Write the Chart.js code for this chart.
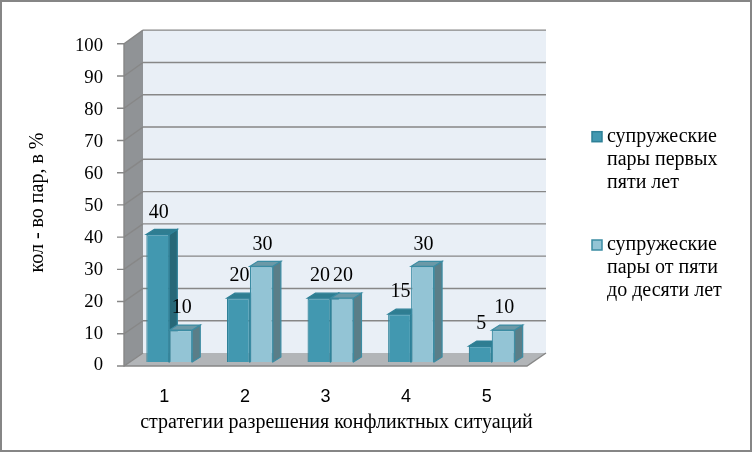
<!DOCTYPE html>
<html><head><meta charset="utf-8">
<script src="https://cdn.jsdelivr.net/npm/chart.js@4"></script>
<style>html,body{margin:0;padding:0;background:#fff}canvas{display:block}</style>
</head><body>
<canvas id="c" width="752" height="452"></canvas>
<script>
const categories = ['1', '2', '3', '4', '5'];
const series1Name = ['супружеские', 'пары первых', 'пяти лет'];
const series2Name = ['супружеские', 'пары от пяти', 'до десяти лет'];
const series1 = [40, 20, 20, 15, 5];
const series2 = [10, 30, 20, 30, 10];
const yTickValues = [0, 10, 20, 30, 40, 50, 60, 70, 80, 90, 100];
const xTitle = 'стратегии разрешения конфликтных ситуаций';
const yTitle = 'кол - во пар, в %';

const SERIF = '"Liberation Serif", "Times New Roman", serif';
const SANS = '"Liberation Sans", Arial, sans-serif';
const STYLE = [
  {front: '#4298B0', top: '#2F7D91', side: '#276878', border: '#2E8097'},
  {front: '#93C4D5', top: '#6C99A7', side: '#5A7E88', border: '#3B8CA3'}
];
const BAR_DX = 8, BAR_DY = -5;

const scene3d = {
  id: 'scene3d',
  beforeDraw(chart) {
    const ctx = chart.ctx, ca = chart.chartArea, ys = chart.scales.y;
    const fy = v => ca.bottom + 4 + (ys.getPixelForValue(v) - ca.bottom) * 1.01;
    const by = v => ca.bottom - 9 + (ys.getPixelForValue(v) - ca.bottom) * 1.012;
    const fl = ca.left - 5, fr = ca.right - 5, bl = ca.left + 14, br = ca.right + 14;
    ctx.save();
    ctx.fillStyle = '#fff';
    ctx.fillRect(0, 0, chart.width, chart.height);
    ctx.fillStyle = '#E9EFF6';
    ctx.fillRect(bl, by(100), br - bl, by(0) - by(100));
    ctx.fillStyle = '#909396';
    ctx.beginPath();
    ctx.moveTo(fl, fy(100)); ctx.lineTo(bl, by(100)); ctx.lineTo(bl, by(0)); ctx.lineTo(fl, fy(0));
    ctx.closePath(); ctx.fill();
    ctx.fillStyle = '#B2B5B8';
    ctx.beginPath();
    ctx.moveTo(fl, fy(0)); ctx.lineTo(fr, fy(0)); ctx.lineTo(br, by(0)); ctx.lineTo(bl, by(0));
    ctx.closePath(); ctx.fill();
    ctx.strokeStyle = '#878787';
    ctx.lineWidth = 1.4;
    yTickValues.forEach(v => {
      ctx.beginPath();
      if (v > 0) { ctx.moveTo(bl, by(v)); ctx.lineTo(br, by(v)); }
      ctx.moveTo(fl - 7, fy(v)); ctx.lineTo(fl, fy(v)); ctx.lineTo(bl, by(v));
      ctx.stroke();
    });
    ctx.beginPath();
    ctx.moveTo(fl, fy(100)); ctx.lineTo(fl, fy(0)); ctx.lineTo(fr, fy(0)); ctx.lineTo(br, by(0));
    ctx.stroke();
    ctx.restore();
  },
  beforeDatasetsDraw(chart) {
    const ctx = chart.ctx;
    ctx.save();
    ctx.lineWidth = 1.2;
    chart.data.datasets.forEach((ds, i) => {
      const st = STYLE[i];
      chart.getDatasetMeta(i).data.forEach(bar => {
        const l = bar.x - bar.width / 2, r = bar.x + bar.width / 2, t = bar.y, b = bar.base;
        ctx.strokeStyle = st.border;
        ctx.fillStyle = st.side;
        ctx.beginPath();
        ctx.moveTo(r, t); ctx.lineTo(r + BAR_DX, t + BAR_DY); ctx.lineTo(r + BAR_DX, b + BAR_DY); ctx.lineTo(r, b);
        ctx.closePath(); ctx.fill(); ctx.stroke();
        ctx.fillStyle = st.top;
        ctx.beginPath();
        ctx.moveTo(l, t); ctx.lineTo(r, t); ctx.lineTo(r + BAR_DX, t + BAR_DY); ctx.lineTo(l + BAR_DX, t + BAR_DY);
        ctx.closePath(); ctx.fill(); ctx.stroke();
      });
    });
    ctx.restore();
  },
  afterDatasetsDraw(chart) {
    const ctx = chart.ctx;
    ctx.save();
    ctx.fillStyle = '#000';
    ctx.font = '20px ' + SERIF;
    ctx.textAlign = 'center';
    ctx.textBaseline = 'middle';
    chart.data.datasets.forEach((ds, i) => {
      chart.getDatasetMeta(i).data.forEach((bar, j) => {
        ctx.fillText(String(ds.data[j]), bar.x + 1, bar.y - 22);
      });
    });
    ctx.restore();
  },
  afterDraw(chart) {
    const ctx = chart.ctx, ca = chart.chartArea;
    ctx.save();
    ctx.fillStyle = '#000';
    ctx.font = '20px ' + SERIF;
    ctx.textAlign = 'center';
    ctx.textBaseline = 'middle';
    ctx.fillText(xTitle, (ca.left + ca.right) / 2 + 6, 423);
    const names = [series1Name, series2Name];
    const tops = [136.7, 245];
    ctx.textAlign = 'left';
    names.forEach((lines, i) => {
      ctx.fillStyle = STYLE[i].front;
      ctx.strokeStyle = STYLE[i].border;
      ctx.lineWidth = 1.5;
      ctx.fillRect(592, tops[i] - 5, 10, 10);
      ctx.strokeRect(592, tops[i] - 5, 10, 10);
      ctx.fillStyle = '#000';
      lines.forEach((ln, k) => ctx.fillText(ln, 607, tops[i] + k * 23));
    });
    ctx.strokeStyle = '#868686';
    ctx.lineWidth = 2;
    ctx.strokeRect(1, 1, chart.width - 2, chart.height - 2);
    ctx.restore();
  }
};

new Chart(document.getElementById('c'), {
  type: 'bar',
  data: {
    labels: categories,
    datasets: [
      {label: series1Name.join(' '), data: series1, backgroundColor: STYLE[0].front, borderColor: STYLE[0].border, borderWidth: 1.2},
      {label: series2Name.join(' '), data: series2, backgroundColor: STYLE[1].front, borderColor: STYLE[1].border, borderWidth: 1.2}
    ]
  },
  options: {
    responsive: false,
    animation: false,
    events: [],
    layout: {padding: {top: 43, right: 220, left: 0, bottom: 0}},
    datasets: {bar: {categoryPercentage: 0.57, barPercentage: 1}},
    plugins: {legend: {display: false}, tooltip: {enabled: false}},
    scales: {
      x: {
        offset: true,
        grid: {display: false, drawTicks: false},
        border: {display: false},
        ticks: {font: {family: SANS, size: 18}, color: '#000', padding: 24, labelOffset: -5},
        title: {display: false, text: xTitle},
        afterFit(s) { s.height = 90; }
      },
      y: {
        min: 0, max: 100,
        grid: {display: false, drawTicks: false},
        border: {display: false},
        ticks: {stepSize: 10, font: {family: SERIF, size: 18.7}, color: '#000', padding: 26, labelOffset: 3.5},
        title: {display: true, text: yTitle, font: {family: SERIF, size: 20}, color: '#000', padding: 26},
        afterFit(s) { s.width = 129; }
      }
    }
  },
  plugins: [scene3d]
});
</script>
</body></html>
